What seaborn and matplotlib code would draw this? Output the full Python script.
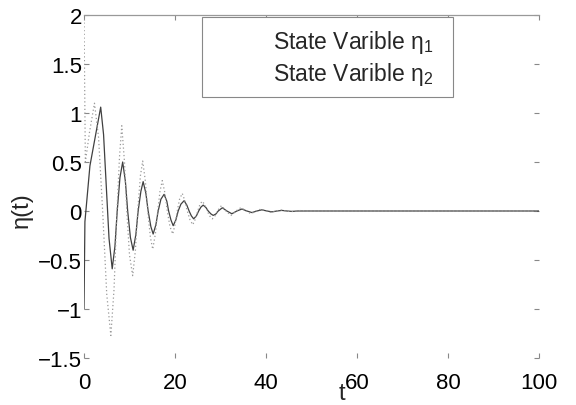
import matplotlib
matplotlib.use("Agg")
import matplotlib.pyplot as plt
import seaborn as sns
import pandas as pd

# ---- data ----
t1 = [0, 0.2, 1.3, 3.67, 4.3, 4.9, 5.5, 6.2, 6.8, 7.3, 7.9, 8.5, 9.1, 9.6,
      10.2, 10.8, 11.4, 11.9, 12.5, 13.0, 13.6, 14.1, 14.7, 15.2, 15.8, 16.3,
      16.9, 17.6, 18.2, 18.6, 19.1, 19.6, 20.2, 20.7, 21.3, 22.0, 22.6, 23.1,
      23.6, 24.1, 24.7, 25.2, 25.7, 26.2, 26.8, 27.3, 27.9, 28.4, 29.0, 29.5,
      30.4, 31.4, 32.5, 33.6, 34.7, 35.8, 36.9, 38.0, 39.1, 40.2, 41.3, 42.4,
      43.5, 44.6, 45.7, 47.0, 100.0]
eta1 = [-1.0, -0.11, 0.46, 1.06, 0.78, 0.25, -0.28, -0.59, -0.36, 0.0, 0.34, 0.50, 0.30, 0.0,
        -0.27, -0.40, -0.24, 0.0, 0.20, 0.30, 0.18, 0.0, -0.16, -0.235, -0.14, 0.0,
        0.12, 0.17, 0.10, 0.0, -0.09, -0.15, -0.09, 0.0, 0.07, 0.105, 0.06, 0.0,
        -0.05, -0.08, -0.05, 0.0, 0.04, 0.06, 0.035, 0.0, -0.03, -0.045, -0.03, 0.0,
        0.033, 0.0, -0.028, 0.0, 0.02, 0.0, -0.016, 0.0, 0.012, 0.0, -0.009, 0.0,
        0.006, 0.0, -0.004, 0.0, 0.0]

t2 = [0, 0.3, 1.2, 2.3, 3.2, 4.1, 5.0, 5.9, 6.6, 7.2, 7.8, 8.3, 8.9, 9.4,
      10.0, 10.7, 11.3, 11.8, 12.4, 12.9, 13.5, 14.0, 14.6, 15.1, 15.7, 16.2,
      16.7, 17.2, 17.8, 18.3, 18.9, 19.5, 20.0, 20.5, 21.0, 21.6, 22.2, 22.7,
      23.3, 23.9, 24.5, 25.0, 25.5, 26.0, 26.6, 27.1, 27.6, 28.2, 28.8, 29.3,
      30.2, 31.2, 32.3, 33.4, 34.5, 35.6, 36.7, 37.8, 38.9, 40.0, 41.1, 42.2,
      43.3, 44.4, 45.5, 46.6, 47.7, 49.0, 100.0]
eta2 = [2.0, 0.5, 0.8, 1.1, 0.75, 0.0, -0.85, -1.27, -0.8, -0.05, 0.55, 0.87, 0.5, 0.0,
        -0.45, -0.66, -0.4, 0.0, 0.36, 0.51, 0.3, 0.0, -0.27, -0.39, -0.23, 0.0,
        0.2, 0.31, 0.18, 0.0, -0.16, -0.235, -0.14, 0.0, 0.12, 0.18, 0.1, 0.0,
        -0.09, -0.14, -0.08, 0.0, 0.07, 0.1, 0.06, 0.0, -0.05, -0.08, -0.05, 0.0,
        0.055, 0.0, -0.045, 0.0, 0.035, 0.0, -0.028, 0.0, 0.02, 0.0, -0.015, 0.0,
        0.01, 0.0, -0.007, 0.0, 0.005, 0.0, 0.0]

labels = [r"State Varible $\eta_1$", r"State Varible $\eta_2$"]
xticks = [0, 20, 40, 60, 80, 100]
yticks = [-1.5, -1, -0.5, 0, 0.5, 1, 1.5, 2]

sns.set_theme(style="white")
plt.rcParams["font.family"] = ["Liberation Sans", "DejaVu Sans"]
plt.rcParams["mathtext.fontset"] = "custom"
plt.rcParams["mathtext.rm"] = "Liberation Sans"
plt.rcParams["mathtext.it"] = "Liberation Sans"

fig = plt.figure(figsize=(5.76, 4.06), dpi=100)
ax = fig.add_axes([84 / 576, 1 - 359 / 406, (539 - 84) / 576, (359 - 16) / 406])

df1 = pd.DataFrame({"t": t1, "eta": eta1})
df2 = pd.DataFrame({"t": t2, "eta": eta2})
sns.lineplot(data=df1, x="t", y="eta", ax=ax, color="#404040", linewidth=0.9,
             sort=False, estimator=None, label=labels[0])
sns.lineplot(data=df2, x="t", y="eta", ax=ax, color="#9a9a9a", linewidth=0.9,
             linestyle=(0, (1, 2)), sort=False, estimator=None, label=labels[1])

ax.set_xlim(0, 100)
ax.set_ylim(-1.5, 2)
ax.set_xticks(xticks)
ax.set_yticks(yticks)
ax.set_xticklabels([str(v) for v in xticks])
ax.set_yticklabels(["\u22121.5", "\u22121", "\u22120.5", "0", "0.5", "1", "1.5", "2"])

for side in ["left", "right", "bottom"]:
    ax.spines[side].set_visible(False)
ax.spines["top"].set_visible(True)
ax.spines["top"].set_color("#999999")
ax.spines["top"].set_linewidth(0.9)

ax.tick_params(axis="both", which="both", direction="in", length=3.5, width=0.8,
               color="#888888", labelsize=16, labelcolor="black",
               top=True, right=True, bottom=True, left=True)
ax.tick_params(axis="x", pad=10)
ax.tick_params(axis="y", pad=1.5)

ax.set_xlabel("t", fontsize=17)
ax.set_ylabel("\u03b7(t)", fontsize=17)
ax.xaxis.set_label_coords((342 - 84) / 455, (359 - 383) / 343)
ax.yaxis.set_label_coords((33 - 84) / 455, (359 - 210) / 343)

leg = ax.legend(loc="upper left", bbox_to_anchor=(0.259, 0.993, 0.552, 0.0),
                mode="expand", borderaxespad=0, fontsize=16.5, frameon=True,
                fancybox=False, edgecolor="#888888", framealpha=1, borderpad=0.45,
                handlelength=2.2, handletextpad=0.45, labelspacing=0.22)
leg.get_frame().set_linewidth(0.8)
for h in leg.legend_handles:
    h.set_alpha(0)

fig.savefig("out.png", dpi=100)
